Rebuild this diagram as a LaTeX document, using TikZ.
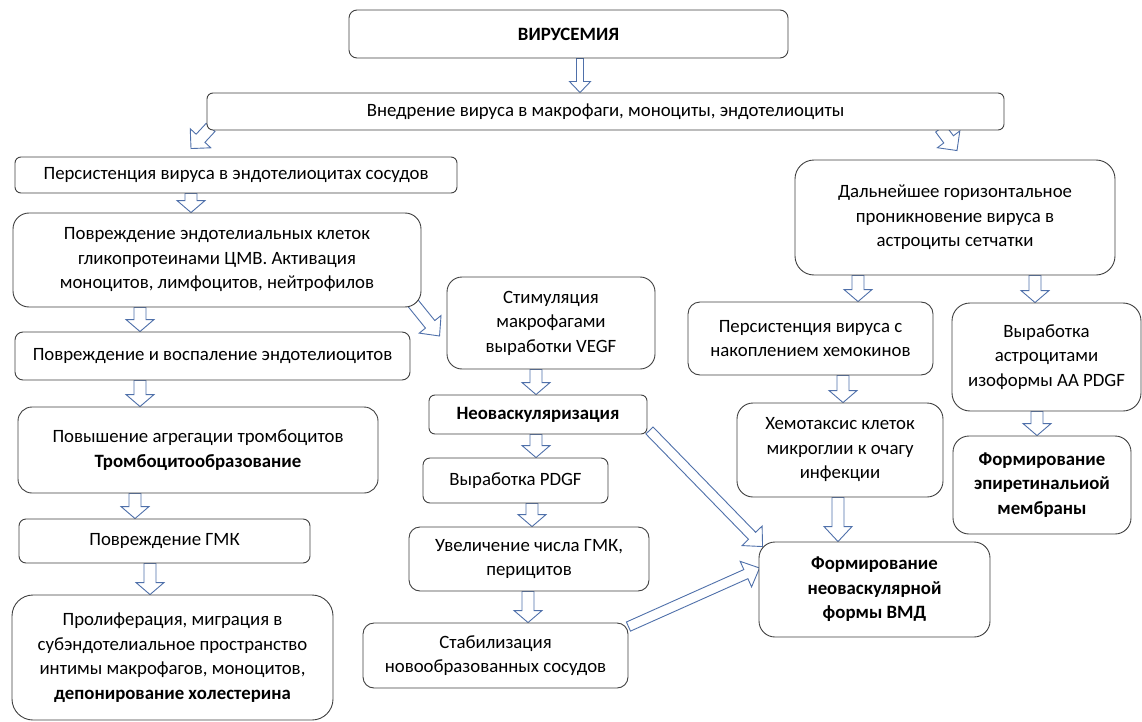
\documentclass[tikz,border=0pt]{standalone}
\usepackage{fontspec}
\setmainfont{Carlito}
\usepackage{tikz}
\usetikzlibrary{calc, backgrounds}
\definecolor{arrblue}{HTML}{4F70AA}
\definecolor{boxgray}{HTML}{404040}

\tikzset{
  ba shaft/.store in=\bashaft, ba head/.store in=\bahead, ba len/.store in=\balen,
  ba shaft=6, ba head=14, ba len=12
}
% hollow block arrow from one anchor to another
\newcommand{\barrow}[3][]{%
  \begin{scope}[#1]
    \coordinate (ba-s) at (#2);
    \coordinate (ba-e) at (#3);
    \coordinate (ba-m) at ($(ba-e)!\balen pt!(ba-s)$);
    \draw[draw=arrblue, line width=0.9pt, fill=white, line join=miter]
      ($(ba-s)!\bashaft pt!90:(ba-e)$)
      -- ($(ba-m)!\bashaft pt!-90:(ba-s)$)
      -- ($(ba-m)!\bahead pt!-90:(ba-s)$)
      -- (ba-e)
      -- ($(ba-m)!\bahead pt!90:(ba-s)$)
      -- ($(ba-m)!\bashaft pt!90:(ba-s)$)
      -- ($(ba-s)!\bashaft pt!-90:(ba-e)$) -- cycle;
  \end{scope}}

\begin{document}
\begin{tikzpicture}[
    x=1pt, y=-1pt,
    box/.style={draw=boxgray, line width=0.9pt, fill=white, rounded corners=#1, align=center,
      inner sep=2pt, font=\fontsize{18.8}{24.5}\selectfont},
    box/.default=10pt
  ]
  \useasboundingbox (0,0) rectangle (1142,722);

  \node[box=8pt, minimum width=439pt, minimum height=48pt] (vir) at (568.5,34) {\textbf{ВИРУСЕМИЯ}};
  \node[box=6pt, minimum width=797pt, minimum height=37pt] (vned) at (605.5,111.5) {Внедрение вируса в макрофаги, моноциты, эндотелиоциты};

  % left column
  \node[box=6pt, minimum width=442pt, minimum height=36pt] (pers) at (236,175) {Персистенция вируса в эндотелиоцитах сосудов};
  \node[box=16pt, minimum width=408pt, minimum height=94pt] (povr) at (217,260) {Повреждение эндотелиальных клеток\\гликопротеинами ЦМВ. Активация\\моноцитов, лимфоцитов, нейтрофилов};
  \node[box=8pt, minimum width=395pt, minimum height=48pt] (vosp) at (212.5,356) {Повреждение и воспаление эндотелиоцитов};
  \node[box=14pt, minimum width=360pt, minimum height=86pt] (trom) at (198,450) {Повышение агрегации тромбоцитов\\\textbf{Тромбоцитообразование}};
  \node[box=7pt, minimum width=291pt, minimum height=44pt] (gmk) at (164.5,541) {Повреждение ГМК};
  \node[box=21pt, minimum width=321pt, minimum height=125pt] (prol) at (172.5,657.5) {Пролиферация, миграция в\\субэндотелиальное пространство\\интимы макрофагов, моноцитов,\\\textbf{депонирование холестерина}};

  % middle column
  \node[box=15pt, minimum width=208pt, minimum height=92pt] (vegf) at (551,323) {Стимуляция\\макрофагами\\выработки VEGF};
  \node[box=6pt, minimum width=218pt, minimum height=39pt] (neo) at (538,414.5) {\textbf{Неоваскуляризация}};
  \node[box=7pt, minimum width=185pt, minimum height=45pt] (pdgf) at (515.5,480.5) {Выработка PDGF};
  \node[box=11pt, minimum width=240pt, minimum height=64pt] (uvel) at (529,559) {Увеличение числа ГМК,\\перицитов};
  \node[box=11pt, minimum width=265pt, minimum height=65pt] (stab) at (495.5,655.5) {Стабилизация\\новообразованных сосудов};

  % right column
  \node[box=19pt, minimum width=320pt, minimum height=115pt] (dal) at (955,217.5) {Дальнейшее горизонтальное\\проникновение вируса в\\астроциты сетчатки};
  \node[box=12pt, minimum width=245pt, minimum height=73pt] (hemo) at (810.5,338.5) {Персистенция вируса с\\накоплением хемокинов};
  \node[box=18pt, minimum width=189pt, minimum height=108pt] (astr) at (1046.5,357) {Выработка\\астроцитами\\изоформы АА PDGF};
  \node[box=16pt, minimum width=206pt, minimum height=94pt] (hemt) at (840,450) {Хемотаксис клеток\\микроглии к очагу\\инфекции};
  \node[box=16pt, minimum width=178pt, minimum height=98pt] (epir) at (1042,485) {\textbf{Формирование}\\\textbf{эпиретинальиой}\\\textbf{мембраны}};
  \node[box=16pt, minimum width=231pt, minimum height=95pt] (vmd) at (874.5,589.5) {\textbf{Формирование}\\\textbf{неоваскулярной}\\\textbf{формы ВМД}};

  \begin{scope}[on background layer]
    \barrow[ba shaft=3.5, ba head=10.5, ba len=11]{[xshift=11.5pt]vir.south}{vned.north -| ba-s}
    \barrow[ba len=14]{[shift={(4,-3)}]vned.south west}{[shift={(-45,-8)}]pers.north}
    \barrow[ba len=14]{[shift={(-64,-2)}]vned.south east}{[shift={(2,-9)}]dal.north}
    \barrow{[xshift=-45pt]pers.south}{povr.north -| ba-s}
    \barrow{[xshift=-77pt]povr.south}{vosp.north -| ba-s}
    \barrow[ba len=15]{[shift={(-9,-5)}]povr.south east}{[shift={(-7,13)}]vegf.west}
    \barrow{[xshift=-72.5pt]vosp.south}{trom.north -| ba-s}
    \barrow{[xshift=-63pt]trom.south}{gmk.north -| ba-s}
    \barrow{[xshift=-14.5pt]gmk.south}{prol.north -| ba-s}
    \barrow{[xshift=-15pt]vegf.south}{neo.north -| ba-s}
    \barrow{[xshift=-2pt]neo.south}{pdgf.north -| ba-s}
    \barrow{[xshift=16.5pt]pdgf.south}{uvel.north -| ba-s}
    \barrow{[xshift=-1pt]uvel.south}{stab.north -| ba-s}
    \barrow[ba shaft=5, ba len=15]{[shift={(2,-4)}]neo.south east}{[shift={(4,5)}]vmd.north west}
    \barrow[ba shaft=5, ba len=15]{[shift={(0,4)}]stab.north east}{[shift={(1,-21.5)}]vmd.west}
    \barrow{[xshift=-97pt]dal.south}{hemo.north -| ba-s}
    \barrow{[xshift=80pt]dal.south}{astr.north -| ba-s}
    \barrow{[xshift=32.5pt]hemo.south}{hemt.north -| ba-s}
    \barrow{[xshift=-9.5pt]astr.south}{epir.north -| ba-s}
    \barrow[ba len=15]{[xshift=-2pt]hemt.south}{vmd.north -| ba-s}
  \end{scope}
\end{tikzpicture}
\end{document}
